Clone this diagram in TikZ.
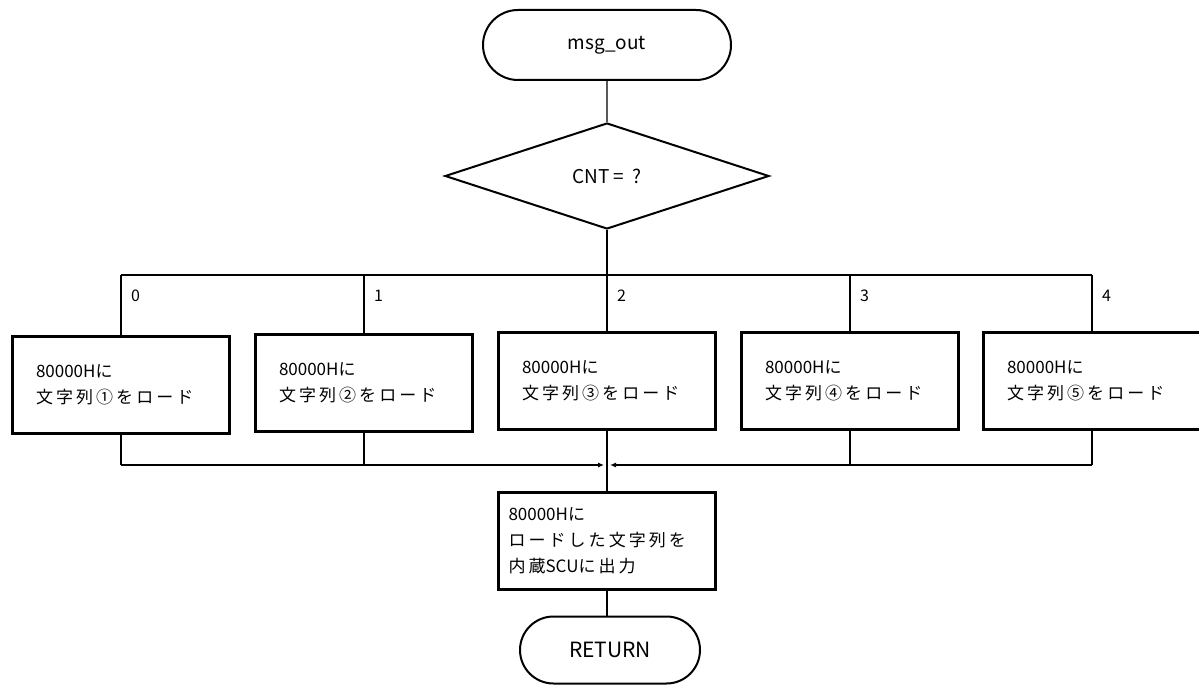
\documentclass[tikz,border=0pt]{standalone}
\usepackage{fontspec}
\setmainfont{Noto Sans CJK JP}
\newfontfamily\jsp[LetterSpace=18]{Noto Sans CJK JP}
\usetikzlibrary{shapes.misc,shapes.geometric,arrows.meta}
\begin{document}
\begin{tikzpicture}[x=1pt,y=-1pt,
  term/.style={rounded rectangle, draw, line width=2pt, inner sep=0pt, font=\fontsize{19}{22}\selectfont},
  proc/.style={rectangle, draw, line width=2.4pt, minimum width=217pt, minimum height=97pt, inner sep=0pt,
               text width=170pt, align=left, font=\fontsize{17}{26}\selectfont},
  dec/.style={diamond, draw, line width=2pt, minimum width=324pt, minimum height=106pt, inner sep=0pt,
              font=\fontsize{19}{22}\selectfont},
  conn/.style={line width=1.1pt},
  lbl/.style={anchor=west, inner sep=0pt, font=\fontsize{16}{19}\selectfont},
  tip/.style={conn, -{Latex[length=6pt,width=5pt]}}]
\useasboundingbox (0,0) rectangle (1199,687);
\node[term, minimum width=248pt, minimum height=70pt] (start) at (607,45) {msg\_out};
\node[dec] (dec) at (607,176) {CNT = \ ?};
\coordinate (tm) at (607,275);
\coordinate (tb0) at (121,275);
\coordinate (tb1) at (364,275);
\coordinate (tb2) at (607,275);
\coordinate (tb3) at (850,275);
\coordinate (tb4) at (1092,275);
\node[lbl] (l0) at (131,296) {0};
\node[lbl] (l1) at (374,296) {1};
\node[lbl] (l2) at (617,296) {2};
\node[lbl] (l3) at (860,296) {3};
\node[lbl] (l4) at (1102,296) {4};
\node[proc] (b0) at (121,385) {80000Hに\\{\jsp 文字列①をロード}};
\node[proc] (b1) at (364,383) {80000Hに\\{\jsp 文字列②をロード}};
\node[proc] (b2) at (607,381) {80000Hに\\{\jsp 文字列③をロード}};
\node[proc] (b3) at (850,381) {80000Hに\\{\jsp 文字列④をロード}};
\node[proc] (b4) at (1092,381) {80000Hに\\{\jsp 文字列⑤をロード}};
\coordinate (bb0) at (121,465);
\coordinate (bb1) at (364,465);
\coordinate (bm) at (607,465);
\coordinate (bb3) at (850,465);
\coordinate (bb4) at (1092,465);
\coordinate (bl) at (604,465);
\coordinate (br) at (610,465);
\node[proc, text width=197pt] (fin) at (607,541) {80000Hに\\{\jsp ロードした文字列を}\\{\jsp 内蔵}SCU{\jsp に出力}};
\node[term, minimum width=180pt, minimum height=67pt, font=\fontsize{21}{24}\selectfont] (ret) at (610,650) {RETURN};
\draw[conn] (start) -- (dec);
\draw[conn] (dec.south) -- (tm);
\draw[conn] (tb0) -- (tb4);
\draw[conn] (tb0) -- (b0.north);
\draw[conn] (tb1) -- (b1.north);
\draw[conn] (tb2) -- (b2.north);
\draw[conn] (tb3) -- (b3.north);
\draw[conn] (tb4) -- (b4.north);
\draw[conn] (b0.south) -- (bb0);
\draw[conn] (b1.south) -- (bb1);
\draw[conn] (b3.south) -- (bb3);
\draw[conn] (b4.south) -- (bb4);
\draw[tip] (bb0) -- (bl);
\draw[tip] (bb4) -- (br);
\draw[conn] (b2.south) -- (fin.north);
\draw[conn] (fin.south) -- (ret.north -| fin.south);
\end{tikzpicture}
\end{document}
